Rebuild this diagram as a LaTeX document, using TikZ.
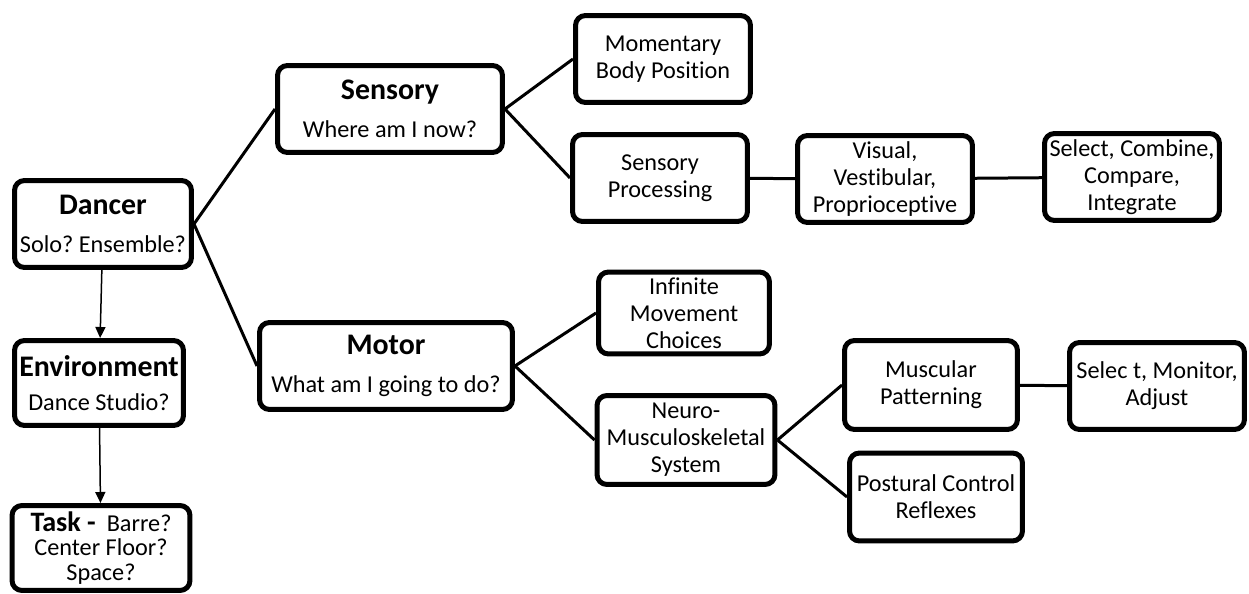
\documentclass[tikz,border=0pt]{standalone}
\usepackage{fontspec}
\setmainfont[Ligatures={NoCommon}]{Carlito}
\usepackage{tikz}
\usetikzlibrary{positioning, arrows.meta}
\newcommand{\boxhead}[1]{{\fontsize{17}{19}\selectfont\bfseries #1}}
\frenchspacing

\begin{document}
\begin{tikzpicture}[
  x=0.02cm, y=-0.02cm,
  card/.style={draw=black, line width=0.1cm, rounded corners=0.2cm, fill=white,
               minimum width=3.5cm, minimum height=1.74cm, inner sep=0pt,
               align=center, font=\fontsize{13.8}{15.4}\selectfont},
  link/.style={line width=0.06cm},
  flow/.style={line width=0.03cm, -{Triangle[length=0.22cm, width=0.2cm]}},
]
  \useasboundingbox (0,0) rectangle (1249,594);

  \node[card, minimum width=3.54cm] (dancer) at (103,224) {
    \boxhead{Dancer}\\[6pt]
    Solo? Ensemble?
  };
  \node[card, minimum width=3.38cm, minimum height=1.7cm] (env) at (99,383) {
    \boxhead{Environment}\\[4pt]
    Dance Studio?
  };
  \node[card, minimum width=3.56cm, minimum height=1.7cm,
        font=\fontsize{13.8}{14}\selectfont] (task) at (101,548) {
    {\fontsize{16}{16}\selectfont\bfseries Task -}~ Barre?\\
    Center Floor?\\
    Space?
  };

  \node[card, minimum width=4.5cm] (sensory) at (390,109) {
    \boxhead{Sensory}\\[6pt]
    Where am I now?
  };
  \node[card, minimum width=5.06cm] (motor) at (386,366) {
    \boxhead{Motor}\\[6pt]
    What am I going to do?
  };

  \node[card] (momentary) at (663,59) {Momentary\\Body Position};
  \node[card] (sensproc) at (660,178) {Sensory\\Processing};
  \node[card] (visual) at (885,179) {Visual,\\Vestibular,\\Proprioceptive};
  \node[card] (integrate) at (1132,177) {Select, Combine,\\Compare,\\Integrate};

  \node[card, minimum width=3.42cm, minimum height=1.64cm] (infinite) at (684,313) {Infinite\\Movement\\Choices};
  \node[card, minimum width=3.56cm, minimum height=1.78cm] (neuro) at (686,440) {Neuro-\\Musculoskeletal\\System};
  \node[card, minimum width=3.46cm, minimum height=1.78cm] (muscular) at (931,385) {Muscular\\Patterning};
  \node[card] (monitor) at (1157,386) {Selec t, Monitor,\\Adjust};
  \node[card, minimum width=3.46cm, minimum height=1.76cm] (postural) at (936,497) {Postural Control\\Reflexes};

  \draw[flow] (dancer) -- (env);
  \draw[flow] (env) -- (task);

  \draw[link] (dancer.east) -- (sensory.west);
  \draw[link] (dancer.east) -- (motor.west);
  \draw[link] (sensory.east) -- (momentary.west);
  \draw[link] (sensory.east) -- (sensproc.west);
  \draw[link] (sensproc) -- (visual);
  \draw[link] (visual) -- (integrate);
  \draw[link] (motor.east) -- (infinite.west);
  \draw[link] (motor.east) -- (neuro.west);
  \draw[link] (neuro.east) -- (muscular.west);
  \draw[link] (neuro.east) -- (postural.west);
  \draw[link] (muscular) -- (monitor);
\end{tikzpicture}
\end{document}
